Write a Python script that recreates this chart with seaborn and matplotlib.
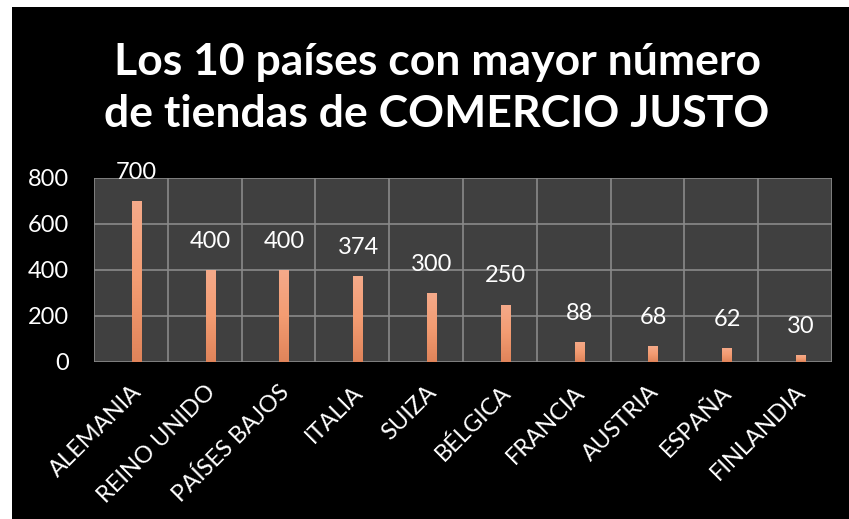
import numpy as np
import pandas as pd
import matplotlib
matplotlib.use("Agg")
import matplotlib.pyplot as plt
import seaborn as sns
from matplotlib.patches import Rectangle
from matplotlib.colors import LinearSegmentedColormap

# Datos del gráfico
paises = ["ALEMANIA", "REINO UNIDO", "PAÍSES BAJOS", "ITALIA", "SUIZA",
          "BÉLGICA", "FRANCIA", "AUSTRIA", "ESPAÑA", "FINLANDIA"]
tiendas = [700, 400, 400, 374, 300, 250, 88, 68, 62, 30]
y_ticks = [0, 200, 400, 600, 800]

df = pd.DataFrame({"pais": paises, "tiendas": tiendas})

sns.set_theme(style="dark")
plt.rcParams["font.family"] = ["Lato", "DejaVu Sans"]

fig = plt.figure(figsize=(8.49, 5.19), dpi=100, facecolor="white")
# fondo negro con borde blanco arriba/izquierda
fig.patches.append(Rectangle((12 / 849, 0), 1, 1 - 7 / 519, transform=fig.transFigure,
                             facecolor="black", edgecolor="none", zorder=-10))

ax = fig.add_axes([94 / 849, 1 - 362 / 519, (832 - 94) / 849, (362 - 178) / 519])
ax.set_facecolor("#404040")

sns.barplot(data=df, x="pais", y="tiendas", color="#F19A6F", width=0.135,
            saturation=1, linewidth=0, edgecolor="none", ax=ax, zorder=3)

# barras algo desplazadas a la derecha como en el original, con degradado
grad = LinearSegmentedColormap.from_list("naranja", ["#E0845A", "#F39C72", "#F5AA8A"])
for p in ax.patches:
    p.set_x(p.get_x() + 0.08)
    x0, w, h = p.get_x(), p.get_width(), p.get_height()
    im = ax.imshow(np.linspace(0, 1, 100).reshape(-1, 1), cmap=grad, origin="lower",
                   extent=[x0, x0 + w, 0, h], aspect="auto", zorder=3.5)
    im.set_clip_path(p)
ax.set_xlim(-0.5, len(paises) - 0.5)
ax.set_ylim(0, 800)
ax.set_yticks(y_ticks)

# rejilla: horizontales en cada tick, verticales entre categorías
for y in y_ticks:
    ax.axhline(y, color="#8a8a8a", lw=1.2, zorder=1)
for x in range(len(paises) + 1):
    ax.axvline(x - 0.5, color="#8a8a8a", lw=1.2, zorder=1)
for s in ax.spines.values():
    s.set_visible(False)
ax.grid(False)

for c in ax.containers:
    labels = ax.bar_label(c, padding=13, color="white", fontsize=17)
    for t in labels:
        t.set_clip_on(False)
        t.set_zorder(5)

ax.set_xlabel("")
ax.set_ylabel("")
ax.tick_params(axis="y", colors="white", labelsize=17, length=0, pad=18)
ax.tick_params(axis="x", colors="white", labelsize=17, length=0, pad=14)
for lab in ax.get_xticklabels():
    lab.set_rotation(45)
    lab.set_ha("right")
    lab.set_va("top")
    lab.set_rotation_mode("anchor")

fig.text(437 / 849, 1 - 88 / 519, "Los 10 países con mayor número\nde tiendas de COMERCIO JUSTO",
         ha="center", va="center", color="white", fontsize=32, fontweight="bold",
         linespacing=1.38)

fig.savefig("out.png", dpi=100, facecolor=fig.get_facecolor())
